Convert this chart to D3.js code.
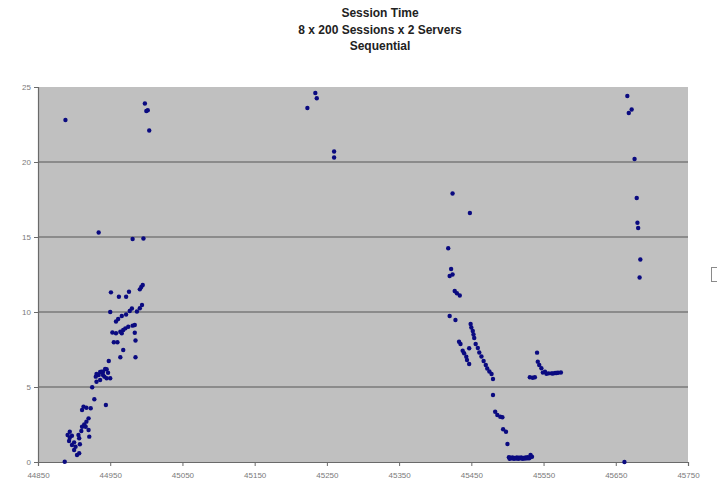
<!DOCTYPE html>
<html>
<head>
<meta charset="utf-8">
<script src="https://cdn.jsdelivr.net/npm/d3@7"></script>
<style>
  html, body { margin: 0; padding: 0; background: #ffffff; }
  svg { display: block; }
</style>
</head>
<body>
<svg id="chart" width="717" height="488"></svg>
<script>
const titleLines = ["Session Time", "8 x 200 Sessions x 2 Servers", "Sequential"];
const xTicks = [44850, 44950, 45050, 45150, 45250, 45350, 45450, 45550, 45650, 45750];
const yTicks = [0, 5, 10, 15, 20, 25];

// Session start (x) values
const sessionX = [
  44951, 44962, 44972, 44976, 44991, 44993, 44995, 44950, 44958, 44961,
  44966, 44972, 44977, 44980, 44987, 44991, 44994, 44953, 44958, 44964,
  44966, 44968, 44971, 44975, 44981, 44984, 44984, 44955, 44960, 44985,
  44968, 44964, 44985, 44948, 44945, 44943, 44940, 44938, 44936, 44947,
  44934, 44940, 44931, 44942, 44945, 44950, 44936, 44931, 44930, 44925,
  44928, 44944, 44913, 44917, 44923, 44911, 44920, 44917, 44914, 44911,
  44916, 44910, 44920, 44921, 44894, 44891, 44897, 44906, 44893, 44907,
  44897, 44902, 44900, 44907, 44904, 44887, 44908, 44900, 44894,
  44888, 44998, 45000, 45002, 45004, 44934, 44981, 44996,
  45234, 45236, 45223, 45260, 45260,
  45424, 45448, 45418, 45422, 45420, 45424, 45427, 45430, 45434, 45420, 45428,
  45433, 45435, 45438, 45440, 45443, 45444, 45447, 45447,
  45449, 45450, 45452, 45453, 45454, 45456, 45459, 45461, 45464, 45467,
  45470, 45472, 45475, 45478, 45480, 45480, 45483, 45486, 45490, 45493,
  45494, 45498, 45500,
  45502, 45504, 45507, 45510, 45513, 45516, 45519, 45522, 45525, 45528, 45531, 45534, 45532,
  45503, 45506, 45509, 45512, 45515, 45518, 45521, 45524, 45527, 45530,
  45531, 45535, 45538, 45541, 45542, 45544, 45547, 45552, 45557, 45561, 45566, 45570, 45574,
  45549, 45554, 45563, 45568,
  45666, 45672, 45668, 45676, 45679, 45680, 45681, 45684, 45683, 45662
];
// Session time (y) values
const sessionTime = [
  11.31, 11.02, 11.02, 11.35, 11.51, 11.67, 11.80, 10.00, 9.37, 9.53,
  9.73, 9.83, 10.07, 10.23, 10.03, 10.25, 10.47, 8.63, 8.58, 8.69,
  8.58, 8.80, 8.91, 9.02, 9.09, 9.13, 8.62, 7.98, 7.98, 8.10,
  7.47, 6.98, 6.98, 6.73, 6.18, 6.20, 6.02, 6.02, 6.00, 5.95,
  5.80, 5.80, 5.87, 5.69, 5.58, 5.58, 5.47, 5.35, 5.69, 4.98,
  4.18, 3.80, 3.69, 3.62, 3.58, 3.47, 2.91, 2.69, 2.51, 2.35,
  2.35, 2.07, 2.13, 1.69, 2.02, 1.80, 1.75, 1.80, 1.40, 1.58,
  1.13, 1.02, 0.80, 0.58, 0.47, 0.02, 1.18, 1.31, 1.62,
  22.8, 23.9, 23.4, 23.45, 22.1, 15.3, 14.87, 14.9,
  24.6, 24.25, 23.6, 20.7, 20.3,
  17.9, 16.6, 14.25, 12.87, 12.4, 12.5, 11.4, 11.25, 11.1, 9.73, 9.47,
  8.02, 7.87, 7.42, 7.25, 7.02, 6.8, 6.53, 7.58,
  9.2, 8.97, 8.73, 8.5, 8.27, 7.87, 7.6, 7.3, 7.03, 6.73,
  6.47, 6.23, 6.03, 5.87, 5.53, 4.47, 3.35, 3.13, 3.02, 2.98,
  2.18, 2.02, 1.2,
  0.32, 0.28, 0.3, 0.27, 0.3, 0.28, 0.3, 0.27, 0.3, 0.32, 0.3, 0.35, 0.47,
  0.22, 0.24, 0.22, 0.23, 0.22, 0.24, 0.22, 0.23, 0.24, 0.25,
  5.65, 5.62, 5.65, 7.29, 6.69, 6.47, 6.25, 6.02, 5.91, 5.91, 5.93, 5.95, 5.97,
  5.96, 5.88, 5.9, 5.93,
  24.4, 23.5, 23.27, 20.2, 17.6, 15.95, 15.6, 13.5, 12.3, 0.0
];

const svg = d3.select("#chart");
const margin = { left: 38, right: 29, top: 87, bottom: 26 };
const W = 717, H = 488;

const x = d3.scaleLinear().domain([44850, 45750]).range([margin.left, W - margin.right]);
const y = d3.scaleLinear().domain([0, 25]).range([H - margin.bottom, margin.top]);

// plot area
svg.append("rect")
  .attr("x", x(44850)).attr("y", y(25))
  .attr("width", x(45750) - x(44850)).attr("height", y(0) - y(25))
  .attr("fill", "#c0c0c0");

// gridlines
svg.append("g").selectAll("line")
  .data(yTicks.filter(d => d > 0 && d < 25))
  .join("line")
  .attr("x1", x(44850)).attr("x2", x(45750))
  .attr("y1", d => y(d)).attr("y2", d => y(d))
  .attr("stroke", "#7a7a7a").attr("stroke-width", 1.6);

// axes
const yAxis = d3.axisLeft(y).tickValues(yTicks).tickSize(4).tickPadding(3).tickFormat(d3.format("d"));
const xAxis = d3.axisBottom(x).tickValues(xTicks).tickSize(4).tickPadding(6).tickFormat(d3.format("d"));

const gy = svg.append("g").attr("transform", `translate(${x(44850)},0)`).call(yAxis);
const gx = svg.append("g").attr("transform", `translate(0,${y(0)})`).call(xAxis);

[gx, gy].forEach(g => {
  g.select(".domain").attr("stroke", "#6a6a6a").attr("stroke-width", 1.2);
  g.selectAll(".tick line").attr("stroke", "#6a6a6a");
  g.selectAll(".tick text")
    .attr("fill", "#7a7a7a")
    .style("font-family", "Arial, 'Liberation Sans', sans-serif")
    .style("font-size", "8px");
});

// points
svg.append("g").selectAll("circle")
  .data(sessionX.map((d, i) => [d, sessionTime[i]]))
  .join("circle")
  .attr("cx", d => x(d[0]))
  .attr("cy", d => y(d[1]))
  .attr("r", 2.2)
  .attr("fill", "#0a0a80");

// title
svg.append("g").selectAll("text")
  .data(titleLines)
  .join("text")
  .attr("x", 380)
  .attr("y", (d, i) => 17 + i * 16.5)
  .attr("text-anchor", "middle")
  .style("font-family", "Arial, 'Liberation Sans', sans-serif")
  .style("font-size", "12px")
  .style("font-weight", "bold")
  .attr("fill", "#222")
  .text(d => d);

// truncated legend box at right edge
svg.append("rect")
  .attr("x", 711.5).attr("y", 267.5).attr("width", 20).attr("height", 14)
  .attr("fill", "#ffffff").attr("stroke", "#8a8a8a");
</script>
</body>
</html>
